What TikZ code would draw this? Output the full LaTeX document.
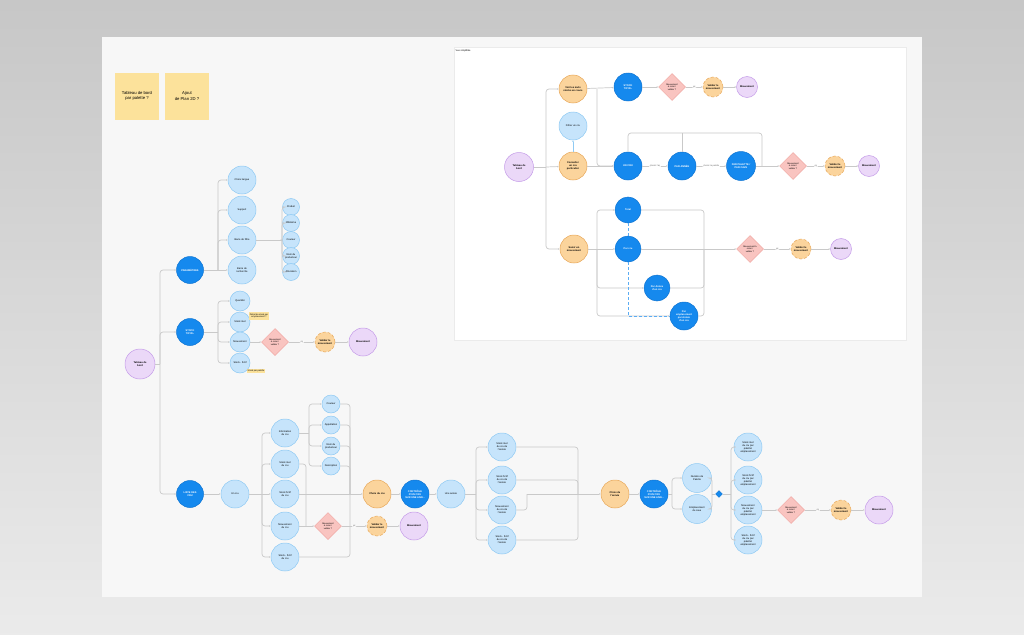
\documentclass[tikz,border=0pt]{standalone}
\usepackage{fontspec}
\setmainfont{Liberation Sans}
\usetikzlibrary{positioning,shapes.geometric,arrows.meta}

\definecolor{bleuclair}{HTML}{C6E4FB}
\definecolor{bleuclairbord}{HTML}{8FCAF3}
\definecolor{bleufonce}{HTML}{1589EE}
\definecolor{bleufoncebord}{HTML}{0E74D2}
\definecolor{orangeclair}{HTML}{FBD49C}
\definecolor{orangebord}{HTML}{E8A85A}
\definecolor{violetclair}{HTML}{EBD8F8}
\definecolor{violetbord}{HTML}{C49BE8}
\definecolor{roseclair}{HTML}{F9C4C0}
\definecolor{rosebord}{HTML}{F0A7A2}
\definecolor{jaunenote}{HTML}{FCE29B}
\definecolor{gristrait}{HTML}{C9C9C9}
\definecolor{fondtableau}{HTML}{F7F7F7}

\newcommand{\txtnoeud}{\fontsize{2.5}{3}\selectfont}

\begin{document}
\begin{tikzpicture}[x=1pt, y=-1pt,
  clair/.style={circle, draw=bleuclairbord, fill=bleuclair, line width=0.5pt, minimum size=28pt, inner sep=0pt, align=center, font=\txtnoeud},
  petit/.style={clair, minimum size=17pt},
  fonce/.style={circle, draw=bleufoncebord, fill=bleufonce, line width=0.5pt, minimum size=28pt, inner sep=0pt, align=center, text=white, font=\txtnoeud\bfseries},
  choix/.style={circle, draw=orangebord, fill=orangeclair, line width=0.5pt, minimum size=28pt, inner sep=0pt, align=center, font=\txtnoeud\bfseries},
  valider/.style={choix, minimum size=20pt, densely dashed},
  fin/.style={circle, draw=violetbord, fill=violetclair, line width=0.5pt, minimum size=28pt, inner sep=0pt, align=center, font=\txtnoeud\bfseries},
  test/.style={diamond, aspect=1, draw=rosebord, fill=roseclair, line width=0.5pt, minimum size=27pt, inner sep=0pt, align=center, font=\fontsize{2.2}{2.6}\selectfont},
  postit/.style={rectangle, fill=jaunenote, minimum width=44pt, minimum height=47pt, align=center, font=\fontsize{4.2}{5.4}\selectfont},
  notejaune/.style={rectangle, fill=jaunenote, inner sep=1.2pt, align=center, font=\fontsize{2.2}{2.6}\selectfont},
  lien/.style={draw=gristrait, line width=0.7pt, rounded corners=3pt, -{Latex[length=1.6pt,width=1.6pt]}},
  trait/.style={draw=gristrait, line width=0.7pt, rounded corners=3pt},
  pointille/.style={draw=bleufonce!70, line width=0.6pt, densely dashed},
  etiq/.style={fill=white, inner sep=0.6pt, text=black!60, font=\fontsize{2.2}{2.6}\selectfont}]

\useasboundingbox (0,0) rectangle (1024,634);
% Fond
\shade[top color=black!22, bottom color=black!8] (0,0) rectangle (1024,634);
\fill[fondtableau] (102,37) rectangle (922,597);
\fill[white] (454,47) rectangle (906,340);
\draw[black!8, line width=0.3pt] (454,47) rectangle (906,340);

% Post-it
\node[postit] (noteA) at (137,96) {Tableau de bord\\par palette ?};
\node[postit] (noteB) at (187,96) {Ajout\\de Plan 2D ?};

% Racine
\node[fin, minimum size=30pt] (TdB) at (140,364) {Tableau de\\bord};
\node[fonce, minimum size=27pt] (PARAM) at (190,270) {PARAMÈTRES};
\node[fonce, minimum size=27pt] (STOCK) at (190,332) {STOCK\\TOTAL};
\node[fonce, minimum size=27pt] (LISTE) at (190,494) {LISTE DES\\CRU};
\coordinate (t1) at (160,364);
\draw[trait] (TdB) -- (t1);
\draw[lien] (t1) |- (PARAM);
\draw[lien] (t1) |- (STOCK);
\draw[lien] (t1) |- (LISTE);

% Paramètres
\node[clair] (langue) at (242,180) {Choix langue};
\node[clair] (support) at (242,210) {Support};
\node[clair] (filtre) at (242,240) {Barre de filtre};
\node[clair] (recherche) at (242,270) {Barre de\\recherche};
\coordinate (b1) at (218,270);
\draw[trait] (PARAM) -- (b1);
\draw[lien] (b1) |- (langue);
\draw[lien] (b1) |- (support);
\draw[lien] (b1) |- (filtre);
\draw[lien] (b1) -- (recherche);

% Barre de filtre
\node[petit] (f1) at (291,207) {Produit};
\node[petit] (f2) at (291,223) {Millésime};
\node[petit] (f3) at (291,240) {Couleur};
\node[petit] (f4) at (291,256) {Nom du\\producteur};
\node[petit] (f5) at (291,272) {Allocation};
\coordinate (b2) at (282,240);
\draw[trait] (filtre) -- (b2);
\draw[lien] (b2) |- (f1);
\draw[lien] (b2) |- (f2);
\draw[lien] (b2) -- (f3);
\draw[lien] (b2) |- (f4);
\draw[lien] (b2) |- (f5);

% Stock total
\node[clair, minimum size=20pt] (s1) at (240,301) {Quantité};
\node[clair, minimum size=20pt] (s2) at (240,322) {Stock réel};
\node[clair, minimum size=20pt] (s3) at (240,342) {Mouvement};
\node[clair, minimum size=20pt] (s4) at (240,363) {Stock - fictif};
\node[notejaune] (noteS2) at (259,316) {Détail du stock par\\emplacement ?};
\node[notejaune] (noteS4) at (256,371) {Stock par palette};
\coordinate (b3) at (218,332);
\draw[trait] (STOCK) -- (b3);
\draw[lien] (b3) |- (s1);
\draw[lien] (b3) |- (s2);
\draw[lien] (b3) |- (s3);
\draw[lien] (b3) |- (s4);
\node[test] (testS) at (275,342) {Mouvement\\à créer /\\valider ?};
\node[valider] (validS) at (325,342) {Valider le\\mouvement};
\node[fin] (mvtS) at (363,342) {Mouvement};
\draw[lien] (s3) -- (testS);
\draw[lien] (testS) -- (validS) node[midway, etiq] {ok};
\draw[lien] (validS) -- (mvtS);

% Liste des crus
\node[clair] (uncru) at (235,494) {Un cru};
\draw[lien] (LISTE) -- (uncru);
\node[clair] (info) at (285,433) {Information\\du cru};
\node[clair] (reel) at (285,464) {Stock réel\\du cru};
\node[clair] (fictif) at (285,494) {Stock fictif\\du cru};
\node[clair] (mvt) at (285,526) {Mouvement\\du cru};
\node[clair] (fictifB) at (285,557) {Stock - fictif\\du cru};
\coordinate (b4) at (262,494);
\draw[trait] (uncru) -- (b4);
\draw[lien] (b4) |- (info);
\draw[lien] (b4) |- (reel);
\draw[lien] (b4) -- (fictif);
\draw[lien] (b4) |- (mvt);
\draw[lien] (b4) |- (fictifB);

% Information du cru
\node[petit, minimum size=18pt] (i1) at (331,404) {Couleur};
\node[petit, minimum size=18pt] (i2) at (331,425) {Appellation};
\node[petit, minimum size=18pt] (i3) at (331,446) {Nom du\\producteur};
\node[petit, minimum size=18pt] (i4) at (331,466) {Description};
\coordinate (b5) at (309,433);
\draw[trait] (info) -- (b5);
\draw[lien] (b5) |- (i1);
\draw[lien] (b5) |- (i2);
\draw[lien] (b5) |- (i3);
\draw[lien] (b5) |- (i4);

% Regroupement vers choix du cru
\coordinate (m1) at (350,494);
\coordinate (m2) at (306,526);
\draw[trait] (i1) -| (m1);
\draw[trait] (i2) -| (m1);
\draw[trait] (i3) -| (m1);
\draw[trait] (i4) -| (m1);
\draw[trait] (reel) -| (m2);
\draw[trait] (fictifB) -| (m1);
\node[choix] (choixcru) at (377,494) {Choix du cru};
\node[fonce] (ctrl1) at (415,494) {CONTRÔLE\\D'UN CRU\\SUR UNE ANN...};
\node[clair] (annee) at (451,494) {Une année};
\draw[trait] (fictif) -- (m1);
\draw[lien] (m1) -- (choixcru);
\draw[lien] (choixcru) -- (ctrl1);
\draw[lien] (ctrl1) -- (annee);

% Mouvement du cru
\node[test] (testC) at (328,526) {Mouvement\\à créer /\\valider ?};
\node[valider] (validC) at (377,526) {Valider le\\mouvement};
\node[fin] (mvtC) at (414,526) {Mouvement};
\draw[lien] (mvt) -- (testC);
\draw[lien] (testC) -- (validC) node[midway, etiq] {ok};
\draw[lien] (validC) -- (mvtC);

% Une année
\node[clair] (a1) at (502,447) {Stock réel\\du cru de\\l'année};
\node[clair] (a2) at (502,480) {Stock fictif\\du cru de\\l'année};
\node[clair] (a3) at (502,510) {Mouvement\\du cru de\\l'année};
\node[clair] (a4) at (502,540) {Stock - fictif\\du cru de\\l'année};
\coordinate (b6) at (476,494);
\draw[trait] (annee) -- (b6);
\draw[lien] (b6) |- (a1);
\draw[lien] (b6) |- (a2);
\draw[lien] (b6) |- (a3);
\draw[lien] (b6) |- (a4);
\coordinate (m3) at (578,494);
\coordinate (m4) at (527,494);
\draw[trait] (a1) -| (m3);
\draw[trait] (a2) -| (m3);
\draw[trait] (a3) -| (m4);
\draw[trait] (a4) -| (m3);

% Choix de l'année
\node[choix] (choixan) at (615,494) {Choix de\\l'année};
\node[fonce] (ctrl2) at (654,494) {CONTRÔLE\\D'UN CRU\\SUR UNE ANN...};
\draw[lien] (m4) -- (choixan);
\draw[lien] (choixan) -- (ctrl2);
\node[clair, minimum size=29pt] (palette) at (697,478) {Numéro de\\Palette};
\node[clair, minimum size=29pt] (cave) at (697,509) {Emplacement\\de cave};
\coordinate (b7) at (672,494);
\draw[trait] (ctrl2) -- (b7);
\draw[lien] (b7) |- (palette);
\draw[lien] (b7) |- (cave);
\coordinate (m5) at (712,494);
\draw[trait] (palette) -| (m5);
\draw[trait] (cave) -| (m5);
\node[diamond, aspect=1, fill=bleufonce, draw=bleufoncebord, minimum size=7pt, inner sep=0pt] (jonction) at (719,494) {};
\draw[trait] (m5) -- (jonction);

% Par palette / emplacement
\node[clair] (e1) at (748,447) {Stock réel\\du cru par\\palette/\\emplacement};
\node[clair] (e2) at (748,480) {Stock fictif\\du cru par\\palette/\\emplacement};
\node[clair] (e3) at (748,510) {Mouvement\\du cru par\\palette/\\emplacement};
\node[clair] (e4) at (748,540) {Stock - fictif\\du cru par\\palette/\\emplacement};
\coordinate (b8) at (731,494);
\draw[trait] (jonction) -- (b8);
\draw[lien] (b8) |- (e1);
\draw[lien] (b8) |- (e2);
\draw[lien] (b8) |- (e3);
\draw[lien] (b8) |- (e4);
\node[test] (testE) at (791,510) {Mouvement\\à créer /\\valider ?};
\node[valider] (validE) at (841,510) {Valider le\\mouvement};
\node[fin] (mvtE) at (879,510) {Mouvement};
\draw[lien] (e3) -- (testE);
\draw[lien] (testE) -- (validE) node[midway, etiq] {ok};
\draw[lien] (validE) -- (mvtE);

% Vue simplifiée
\node[anchor=north west, inner sep=0.5pt, font=\fontsize{2.4}{3}\selectfont] (titreVue) at (455,49) {Vue simplifiée};
\node[fin, minimum size=29pt] (TdB2) at (519,167) {Tableau de\\bord};
\node[choix] (voir) at (573,89) {Voir les mvts\\stocks en cours};
\node[clair] (filtrer) at (573,126) {Filtrer un cru};
\node[choix] (consulter) at (573,166) {Consulter\\un cru\\particulier};
\node[choix] (saisir) at (574,249) {Saisir un\\mouvement};
\coordinate (p1) at (546,167);
\draw[trait] (TdB2) -- (p1);
\draw[lien] (p1) |- (voir);
\draw[lien] (p1) -- (consulter);
\draw[lien] (p1) |- (saisir);
\draw[-{Latex[length=1.6pt,width=1.6pt]}, draw=bleuclairbord, line width=0.7pt] (consulter) -- (filtrer);

% Stock total (vue simplifiée)
\node[fonce] (stock2) at (628,87) {STOCK\\TOTAL};
\node[test] (test1) at (672,87) {Mouvement\\à créer /\\valider ?};
\node[valider] (valid1) at (713,87) {Valider le\\mouvement};
\node[fin, minimum size=21pt] (mvt1) at (747,87) {Mouvement};
\coordinate (p2) at (597,89);
\draw[lien] (voir) -- (stock2);
\draw[lien] (stock2) -- (test1);
\draw[lien] (test1) -- (valid1) node[midway, etiq] {ok};
\draw[lien] (valid1) -- (mvt1);

% Un cru (vue simplifiée)
\node[fonce] (uncru2) at (628,166) {UN CRU};
\node[fonce] (annee2) at (682,166) {PAR ANNÉE};
\node[fonce, minimum size=29pt] (palette2) at (741,166) {PAR PALETTE /\\PAR CAVE};
\node[test] (test2) at (793,166) {Mouvement\\à créer /\\valider ?};
\node[valider] (valid2) at (835,166) {Valider le\\mouvement};
\node[fin, minimum size=21pt] (mvt2) at (869,166) {Mouvement};
\draw[lien] (p2) |- (uncru2);
\draw[lien] (consulter) -- (uncru2);
\draw[lien] (uncru2) -- (annee2) node[midway, etiq] {choisir l'an};
\draw[lien] (annee2) -- (palette2) node[midway, etiq] {choisir la palette};
\draw[lien] (palette2) -- (test2);
\draw[lien] (test2) -- (valid2) node[midway, etiq] {ok};
\draw[lien] (valid2) -- (mvt2);
\coordinate (p4) at (628,133);
\coordinate (p5) at (762,133);
\coordinate (p3) at (762,166);
\draw[trait] (uncru2) -- (p4) -- (p5) -- (p3);
\draw[trait] (annee2) -- (annee2 |- p4);

% Saisir un mouvement (vue simplifiée)
\node[fonce, minimum size=26pt] (total) at (628,210) {Total};
\node[fonce, minimum size=26pt] (parcru) at (628,249) {Par cru};
\node[fonce, minimum size=26pt] (parannee) at (657,288) {Par Année\\d'un cru};
\node[fonce, minimum size=28pt] (parempl) at (684,316) {Par\\emplacement\\par Année\\d'un cru};
\coordinate (p6) at (597,249);
\coordinate (p7) at (704,249);
\coordinate (p8) at (597,314);
\draw[trait] (saisir) -- (p6);
\draw[lien] (p6) |- (total);
\draw[lien] (p6) -- (parcru);
\draw[lien] (p6) |- (parannee);
\draw[lien] (p6) |- (parempl);
\draw[trait] (total) -| (p7);
\draw[trait] (parcru) -- (p7);
\draw[trait] (parannee) -| (p7);
\draw[trait] (parempl) -| (p7);
\draw[pointille] (total) -- (parcru);
\draw[pointille] (parcru) |- (parempl);
\node[test] (test3) at (750,249) {Mouvement à\\créer /\\valider ?};
\node[valider] (valid3) at (801,249) {Valider le\\mouvement};
\node[fin, minimum size=21pt] (mvt3) at (841,249) {Mouvement};
\draw[lien] (p7) -- (test3);
\draw[lien] (test3) -- (valid3) node[midway, etiq] {ok};
\draw[lien] (valid3) -- (mvt3);

\end{tikzpicture}
\end{document}
